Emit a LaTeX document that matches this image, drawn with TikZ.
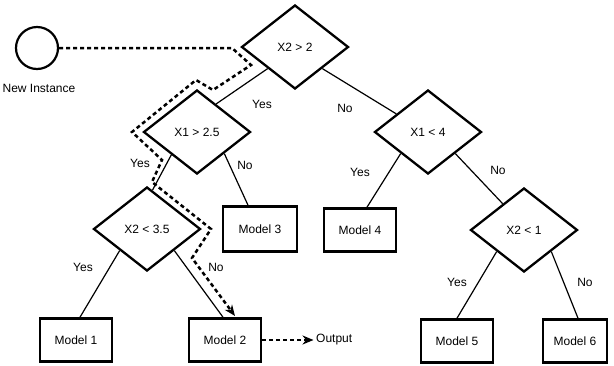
\documentclass[tikz,border=0pt]{standalone}
\usepackage{fontspec}
\setmainfont{Liberation Sans}
\usetikzlibrary{shapes.geometric,arrows.meta,calc}
\begin{document}
\begin{tikzpicture}[x=1pt,y=-1pt,
  txt/.style={font=\fontsize{12}{14}\selectfont},
  dec/.style={draw, diamond, line width=2.3pt, minimum width=107pt, minimum height=84pt, inner sep=0pt, txt},
  modelbox/.style={draw, rectangle, line width=2.6pt, minimum width=72pt, minimum height=43pt, inner sep=0pt, txt},
  edge/.style={line width=1.2pt},
  lbl/.style={inner sep=0pt, txt},
  trace/.style={line width=2.5pt, dash pattern=on 4pt off 3pt},
  tip/.style={-{Stealth[length=11pt,width=9pt]}}
]
\useasboundingbox (0,0) rectangle (614,365);

% start
\node[draw, circle, line width=2.2pt, minimum size=42pt, inner sep=0pt] (inst) at (37,48) {};
\node[lbl] (instlbl) at (39,88) {New Instance};

% decisions
\node[dec] (d1) at (295,47) {X2 > 2};
\node[dec] (d2) at (197,132) {X1 > 2.5};
\node[dec] (d3) at (147,229) {X2 < 3.5};
\node[dec] (d4) at (428,132) {X1 < 4};
\node[dec] (d5) at (524,230) {X2 < 1};

% models
\node[modelbox] (m1) at (76,340) {Model 1};
\node[modelbox] (m2) at (225,340) {Model 2};
\node[modelbox, minimum width=74pt, minimum height=45pt] (m3) at (260,229) {Model 3};
\node[modelbox] (m4) at (360,230) {Model 4};
\node[modelbox] (m5) at (457,341) {Model 5};
\node[modelbox, minimum width=64pt] (m6) at (575,341) {Model 6};

% edges
\draw[edge] ($(d1.south)!0.5!(d1.west)$) -- ($(d2.north)!0.35!(d2.east)$);
\draw[edge] ($(d1.south)!0.5!(d1.east)$) -- ($(d4.north)!0.58!(d4.west)$);
\draw[edge] ($(d2.south)!0.47!(d2.west)$) -- ($(d3.north)!0.1!(d3.east)$);
\draw[edge] ($(d2.south)!0.5!(d2.east)$) -- ([xshift=-12pt]m3.north);
\draw[edge] ($(d3.south)!0.5!(d3.west)$) -- ([xshift=4pt]m1.north);
\draw[edge] ($(d3.south)!0.5!(d3.east)$) -- ([xshift=-2pt]m2.north);
\draw[edge] ($(d4.south)!0.5!(d4.west)$) -- ([xshift=7pt]m4.north);
\draw[edge] ($(d4.south)!0.5!(d4.east)$) -- ($(d5.north)!0.39!(d5.west)$);
\draw[edge] ($(d5.south)!0.5!(d5.west)$) -- (m5.north);
\draw[edge] ($(d5.south)!0.5!(d5.east)$) -- ([xshift=3pt]m6.north);

% labels
\node[lbl] (l1) at (262,104) {Yes};
\node[lbl] (l2) at (345,108) {No};
\node[lbl] (l3) at (140,163) {Yes};
\node[lbl] (l4) at (245,165) {No};
\node[lbl] (l5) at (83,267) {Yes};
\node[lbl] (l6) at (216,267) {No};
\node[lbl] (l7) at (360,172) {Yes};
\node[lbl] (l8) at (498,170) {No};
\node[lbl] (l9) at (457,282) {Yes};
\node[lbl] (l10) at (585,282) {No};

% traced path
\coordinate (p1) at (232,48);
\coordinate (p2) at (251,65);
\coordinate (p3) at (213,90);
\coordinate (p4) at (196,80);
\coordinate (p5) at (132,132);
\coordinate (p6) at (162,160);
\coordinate (p7) at (152,182);
\coordinate (p8) at (211,229);
\coordinate (p9) at (192,258);
\coordinate (p10) at (235,316);
\draw[trace, tip] (inst.east) -- (p1) -- (p2) -- (p3) -- (p4) -- (p5) -- (p6) -- (p7) -- (p8) -- (p9) -- (p10);

% output
\node[lbl, anchor=west] (out) at (316,340) {Output};
\draw[trace, tip, shorten >=2.5pt] (m2.east) -- (out.west);
\end{tikzpicture}
\end{document}
